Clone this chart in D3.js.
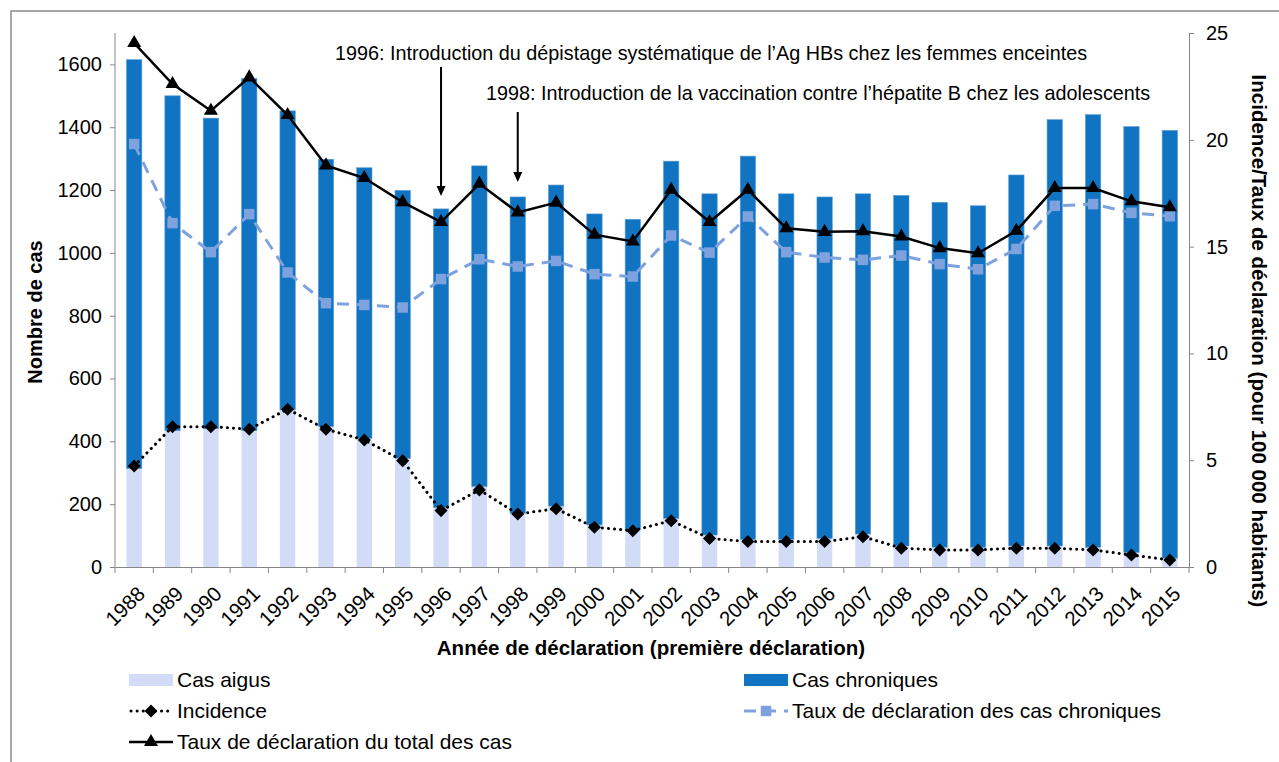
<!DOCTYPE html>
<html lang="fr">
<head>
<meta charset="utf-8">
<script src="https://cdn.jsdelivr.net/npm/d3@7"></script>
<style>
  body { margin: 0; background: #fff; }
  svg { font-family: "Liberation Sans", Arial, sans-serif; }
  .axis path, .axis line { stroke: #868686; }
  .axis text { font-size: 20px; fill: #000; }
</style>
</head>
<body>
<script>
// Données
var annees = ["1988","1989","1990","1991","1992","1993","1994","1995","1996","1997","1998","1999","2000","2001",
              "2002","2003","2004","2005","2006","2007","2008","2009","2010","2011","2012","2013","2014","2015"];
var casAigus = [313,434,440,434,500,447,410,346,189,256,171,194,134,118,155,102,88,88,91,105,67,63,63,67,67,63,46,28];
var casChroniques = [1302,1066,989,1121,952,851,861,853,951,1021,1007,1022,990,989,1137,1086,1220,1100,1087,1083,
                     1116,1098,1087,1181,1357,1377,1356,1362];
var incidence = [4.73,6.57,6.57,6.45,7.39,6.45,5.95,4.98,2.64,3.61,2.48,2.73,1.86,1.70,2.17,1.34,1.19,1.19,1.19,1.42,
                 0.88,0.80,0.80,0.88,0.88,0.80,0.56,0.33];
var tauxChroniques = [19.80,16.10,14.74,16.52,13.79,12.35,12.27,12.15,13.48,14.41,14.07,14.33,13.71,13.60,15.52,14.72,
                      16.41,14.74,14.49,14.38,14.58,14.18,13.94,14.89,16.91,16.99,16.58,16.42];
var tauxTotal = [24.53,22.61,21.36,22.92,21.16,18.80,18.21,17.08,16.15,17.94,16.60,17.06,15.56,15.24,17.66,16.15,
                 17.66,15.86,15.69,15.72,15.47,14.93,14.69,15.74,17.74,17.74,17.12,16.84];
var ticksGauche = [0,200,400,600,800,1000,1200,1400,1600];
var ticksDroite = [0,5,10,15,20,25];

var w = 1279, h = 762;
var gX0 = 115, gX1 = 1189, gY0 = 33, gY1 = 567;

var couleurAigus = "#d2dcf6";
var couleurChron = "#1174c2";
var couleurTaux = "#7ea2de";

var svg = d3.select("body").append("svg").attr("width", w).attr("height", h);

// cadre
svg.append("rect").attr("x", 11).attr("y", 11).attr("width", 1300).attr("height", 800)
  .attr("fill", "none").attr("stroke", "#8c8c8c").attr("stroke-width", 1.5);

var x = d3.scaleBand().domain(annees).range([gX0, gX1]);
var yG = d3.scaleLinear().domain([0, 1700]).range([gY1, gY0]);
var yD = d3.scaleLinear().domain([0, 25]).range([gY1, gY0]);
var bw = x.bandwidth() * 0.4;
function cx(d) { return x(d) + x.bandwidth() / 2; }

// barres empilées
svg.selectAll("rect.aigus").data(annees).enter().append("rect")
  .attr("class", "aigus")
  .attr("x", function(d) { return cx(d) - bw / 2; })
  .attr("width", bw)
  .attr("y", function(d, i) { return yG(casAigus[i]); })
  .attr("height", function(d, i) { return yG(0) - yG(casAigus[i]); })
  .attr("fill", couleurAigus);

svg.selectAll("rect.chron").data(annees).enter().append("rect")
  .attr("class", "chron")
  .attr("x", function(d) { return cx(d) - bw / 2; })
  .attr("width", bw)
  .attr("y", function(d, i) { return yG(casAigus[i] + casChroniques[i]); })
  .attr("height", function(d, i) { return yG(casAigus[i]) - yG(casAigus[i] + casChroniques[i]); })
  .attr("fill", couleurChron)
  .attr("stroke", "#5b9bd5").attr("stroke-width", 0.6);

// axes
var axeG = svg.append("g").attr("class", "axis").attr("transform", "translate(" + gX0 + ",0)")
  .call(d3.axisLeft(yG).tickValues(ticksGauche).tickFormat(d3.format("d"))
    .tickSize(5).tickSizeOuter(0).tickPadding(8));
axeG.select(".domain").attr("d", "M0," + gY1 + "V" + gY0);

svg.append("g").attr("class", "axis").attr("transform", "translate(" + gX1 + ",0)")
  .call(d3.axisRight(yD).tickValues(ticksDroite).tickSize(5).tickSizeOuter(0).tickPadding(12));

var axeX = svg.append("g").attr("class", "axis").attr("transform", "translate(0," + gY1 + ")")
  .call(d3.axisBottom(x).tickSize(0).tickSizeOuter(0));
axeX.selectAll(".tick line").remove();
axeX.selectAll(".tick text")
  .style("font-size", "20.5px")
  .attr("text-anchor", "end")
  .attr("transform", "translate(7,23) rotate(-45)")
  .attr("dy", "0.35em")
  .attr("y", 0);
// graduations entre les catégories
var bornes = annees.map(function(d) { return x(d); }).concat([gX1]);
svg.selectAll("line.sep").data(bornes).enter().append("line")
  .attr("x1", function(d) { return d; }).attr("x2", function(d) { return d; })
  .attr("y1", gY1).attr("y2", gY1 + 6)
  .attr("stroke", "#868686");

// titres des axes
svg.append("text").attr("transform", "translate(42," + ((gY0 + gY1) / 2 + 12) + ") rotate(-90)")
  .attr("text-anchor", "middle").style("font-size", "20px").style("font-weight", "bold")
  .text("Nombre de cas");
svg.append("text").attr("transform", "translate(1252,341) rotate(90)")
  .attr("text-anchor", "middle").style("font-size", "20.5px").style("font-weight", "bold")
  .text("Incidence/Taux de déclaration (pour 100 000 habitants)");
svg.append("text").attr("x", 651).attr("y", 655)
  .attr("text-anchor", "middle").style("font-size", "20.5px").style("font-weight", "bold")
  .text("Année de déclaration (première déclaration)");

// lignes
function ligne(vals) {
  return d3.line().x(function(d, i) { return cx(annees[i]); }).y(function(d) { return yD(d); })(vals);
}
svg.append("path").attr("d", ligne(tauxChroniques)).attr("fill", "none")
  .attr("stroke", couleurTaux).attr("stroke-width", 3).attr("stroke-dasharray", "12,8");
svg.append("path").attr("d", ligne(incidence)).attr("fill", "none")
  .attr("stroke", "#000").attr("stroke-width", 3).attr("stroke-dasharray", "0.1,6").attr("stroke-linecap", "round");
svg.append("path").attr("d", ligne(tauxTotal)).attr("fill", "none")
  .attr("stroke", "#000").attr("stroke-width", 2.5);

var carre = d3.symbol().type(d3.symbolSquare).size(110);
var losange = d3.symbol().type(d3.symbolSquare).size(85);
var triangle = d3.symbol().type(d3.symbolTriangle).size(85);

svg.selectAll("path.carre").data(tauxChroniques).enter().append("path")
  .attr("d", carre).attr("fill", couleurTaux)
  .attr("transform", function(d, i) { return "translate(" + cx(annees[i]) + "," + yD(d) + ")"; });
svg.selectAll("path.losange").data(incidence).enter().append("path")
  .attr("d", losange).attr("fill", "#000")
  .attr("transform", function(d, i) { return "translate(" + cx(annees[i]) + "," + yD(d) + ") rotate(45)"; });
svg.selectAll("path.tri").data(tauxTotal).enter().append("path")
  .attr("d", triangle).attr("fill", "#000")
  .attr("transform", function(d, i) { return "translate(" + cx(annees[i]) + "," + yD(d) + ")"; });

// annotations
function fleche(annee, y1, y2) {
  var xa = cx(annee);
  svg.append("line").attr("x1", xa).attr("x2", xa).attr("y1", y1).attr("y2", y2 - 8)
    .attr("stroke", "#000").attr("stroke-width", 2);
  svg.append("path").attr("d", "M" + (xa - 4.5) + "," + (y2 - 10) + "L" + (xa + 4.5) + "," + (y2 - 10) + "L" + xa + "," + y2 + "Z")
    .attr("fill", "#000");
}
svg.append("text").attr("x", 335).attr("y", 60).style("font-size", "19.8px")
  .text("1996: Introduction du dépistage systématique de l’Ag HBs chez les femmes enceintes");
fleche("1996", 67, 196);
svg.append("text").attr("x", 486).attr("y", 100).style("font-size", "19.8px")
  .text("1998: Introduction de la vaccination contre l’hépatite  B chez les adolescents");
fleche("1998", 112, 182);

// légende
var leg = svg.append("g").style("font-size", "21px");
function texteLeg(xx, yy, t) {
  leg.append("text").attr("x", xx + 48).attr("y", yy + 7).text(t);
}
leg.append("rect").attr("x", 129).attr("y", 674).attr("width", 44).attr("height", 12).attr("fill", couleurAigus);
texteLeg(129, 680, "Cas aigus");
leg.append("rect").attr("x", 744).attr("y", 674).attr("width", 44).attr("height", 12).attr("fill", couleurChron);
texteLeg(744, 680, "Cas chroniques");

leg.append("line").attr("x1", 131).attr("x2", 171).attr("y1", 711).attr("y2", 711)
  .attr("stroke", "#000").attr("stroke-width", 3).attr("stroke-dasharray", "0.1,6").attr("stroke-linecap", "round");
leg.append("path").attr("d", losange).attr("fill", "#000").attr("transform", "translate(151,711) rotate(45)");
texteLeg(129, 711, "Incidence");

leg.append("line").attr("x1", 744).attr("x2", 788).attr("y1", 711).attr("y2", 711)
  .attr("stroke", couleurTaux).attr("stroke-width", 3).attr("stroke-dasharray", "12,8");
leg.append("path").attr("d", carre).attr("fill", couleurTaux).attr("transform", "translate(766,711)");
texteLeg(744, 711, "Taux de déclaration des cas chroniques");

leg.append("line").attr("x1", 129).attr("x2", 173).attr("y1", 742).attr("y2", 742)
  .attr("stroke", "#000").attr("stroke-width", 2.5);
leg.append("path").attr("d", triangle).attr("fill", "#000").attr("transform", "translate(151,742)");
texteLeg(129, 742, "Taux de déclaration du total des cas");
</script>
</body>
</html>
